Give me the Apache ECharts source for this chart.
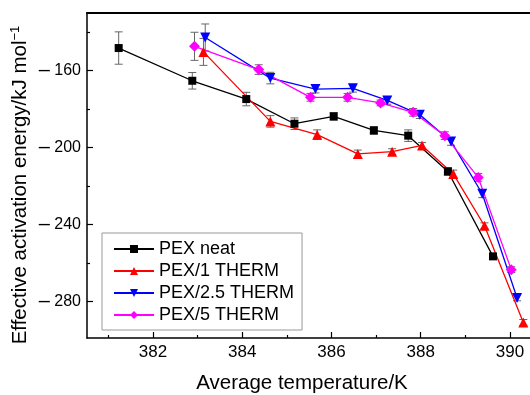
<!DOCTYPE html>
<html>
<head>
<meta charset="utf-8">
<script src="https://cdn.jsdelivr.net/npm/echarts@6/dist/echarts.min.js"></script>
<style>
  html, body { margin: 0; padding: 0; background: #fff; }
  #chart { width: 530px; height: 395px; }
</style>
</head>
<body>
<div id="chart"></div>
<script>
// data
var seriesNames = ['PEX neat', 'PEX/1 THERM', 'PEX/2.5 THERM', 'PEX/5 THERM'];

var neatT = [381.23, 382.88, 384.09, 385.17, 386.05, 386.95, 387.72, 388.61, 389.62];
var neatE = [-148.4, -165.4, -174.9, -187.7, -183.9, -191.2, -193.9, -212.5, -256.6];
var neatErr = [8.4, 4.3, 3.5, 3.0, 2.0, 2.0, 3.0, 2.0, 1.5];

var therm1T = [383.13, 384.63, 385.68, 386.59, 387.36, 388.03, 388.73, 389.43, 390.30];
var therm1E = [-150.4, -186.5, -193.4, -203.4, -202.2, -199.0, -213.8, -240.7, -290.9];
var therm1Err = [7.0, 3.0, 2.5, 2.0, 1.5, 1.5, 2.0, 1.5, 1.5];

var therm25T = [383.17, 384.63, 385.64, 386.48, 387.25, 387.98, 388.68, 389.38, 390.16];
var therm25E = [-142.9, -164.0, -169.7, -169.3, -175.6, -183.0, -196.9, -224.1, -278.2];
var therm25Err = [7.0, 3.0, 2.0, 2.0, 2.0, 2.0, 2.0, 2.0, 1.5];

var therm5T = [382.93, 384.37, 385.53, 386.36, 387.10, 387.83, 388.54, 389.29, 390.03];
var therm5E = [-147.5, -159.6, -174.0, -174.0, -176.9, -181.8, -193.9, -215.6, -263.5];
var therm5Err = [7.3, 2.5, 2.0, 2.0, 1.5, 2.0, 2.0, 2.0, 1.5];

var xMajor = [382, 384, 386, 388, 390];
var xMinor = [381, 383, 385, 387, 389];
var yMajor = [-160, -200, -240, -280];
var yMinor = [-140, -180, -220, -260];

var FONT = 'Liberation Sans, Arial, sans-serif';

function pairs(xs, ys) {
  return xs.map(function (x, i) { return [x, ys[i]]; });
}
function triples(xs, ys, es) {
  return xs.map(function (x, i) { return [x, ys[i], es[i]]; });
}

function errorBars(data) {
  return {
    type: 'custom',
    z: 1,
    silent: true,
    data: data,
    renderItem: function (params, api) {
      var x = api.value(0), y = api.value(1), e = api.value(2);
      var hi = api.coord([x, y + e]);
      var lo = api.coord([x, y - e]);
      var w = 4;
      var st = { stroke: '#666', lineWidth: 1 };
      return {
        type: 'group',
        children: [
          { type: 'line', shape: { x1: hi[0], y1: hi[1], x2: lo[0], y2: lo[1] }, style: st },
          { type: 'line', shape: { x1: hi[0] - w, y1: hi[1], x2: hi[0] + w, y2: hi[1] }, style: st },
          { type: 'line', shape: { x1: lo[0] - w, y1: lo[1], x2: lo[0] + w, y2: lo[1] }, style: st }
        ]
      };
    }
  };
}

function lineSeries(name, data, color, symbol, size, rotate) {
  return {
    name: name,
    type: 'line',
    z: 3,
    data: data,
    symbol: symbol,
    symbolSize: size,
    symbolRotate: rotate || 0,
    lineStyle: { color: color, width: 1.3 },
    itemStyle: { color: color },
    animation: false
  };
}

var xRange = { min: 380.52, max: 390.45 };
var yRange = { min: -299, max: -130.2 };

var chart = echarts.init(document.getElementById('chart'));
chart.setOption({
  animation: false,
  grid: { left: 87, top: 13, right: 0, bottom: 57, containLabel: false },
  legend: {
    orient: 'vertical',
    left: 102,
    top: 233,
    width: 200,
    padding: [7, 8, 6, 11],
    itemWidth: 40,
    itemHeight: 10,
    itemGap: 4,
    borderColor: '#999',
    borderWidth: 1,
    backgroundColor: '#fff',
    data: seriesNames,
    textStyle: { fontFamily: FONT, fontSize: 18, color: '#000', lineHeight: 18 }
  },
  xAxis: [
    {
      type: 'value', min: xRange.min, max: xRange.max, position: 'bottom',
      axisLine: { lineStyle: { color: '#000', width: 1.5 } },
      axisTick: { inside: true, length: 6, customValues: xMajor, lineStyle: { color: '#000', width: 1.2 } },
      axisLabel: { customValues: xMajor, margin: 6, fontFamily: FONT, fontSize: 17, color: '#000' },
      splitLine: { show: false }
    },
    {
      type: 'value', min: xRange.min, max: xRange.max, position: 'bottom',
      axisLine: { show: false },
      axisTick: { inside: true, length: 3, customValues: xMinor, lineStyle: { color: '#000', width: 1.2 } },
      axisLabel: { show: false },
      splitLine: { show: false }
    },
    {
      type: 'value', min: xRange.min, max: xRange.max, position: 'top',
      axisLine: { lineStyle: { color: '#000', width: 2.2 } },
      axisTick: { show: false },
      axisLabel: { show: false },
      splitLine: { show: false }
    }
  ],
  yAxis: [
    {
      type: 'value', min: yRange.min, max: yRange.max, position: 'left',
      axisLine: { show: true, lineStyle: { color: '#000', width: 1.5 } },
      axisTick: { show: true, inside: true, length: 6, customValues: yMajor, lineStyle: { color: '#000', width: 1.2 } },
      axisLabel: {
        customValues: yMajor, margin: 6, fontFamily: FONT, fontSize: 16, color: '#000',
        formatter: function (v) { return '{d|\u2013} ' + Math.abs(v); },
        rich: { d: { fontFamily: FONT, fontSize: 20, color: '#000' } }
      },
      splitLine: { show: false }
    },
    {
      type: 'value', min: yRange.min, max: yRange.max, position: 'left',
      axisLine: { show: false },
      axisTick: { show: true, inside: true, length: 3, customValues: yMinor, lineStyle: { color: '#000', width: 1.2 } },
      axisLabel: { show: false },
      splitLine: { show: false }
    }
  ],
  graphic: [
    {
      type: 'text', x: 302, y: 383,
      style: {
        text: 'Average temperature/K', fontFamily: FONT, fontSize: 20.5, fill: '#000',
        align: 'center', verticalAlign: 'middle'
      }
    },
    {
      type: 'text', x: 20, y: 185, rotation: Math.PI / 2,
      style: {
        text: 'Effective activation energy/kJ mol{sup|\u22121}',
        fontFamily: FONT, fontSize: 20.5, fill: '#000',
        align: 'center', verticalAlign: 'middle',
        rich: { sup: { fontFamily: FONT, fontSize: 13, fill: '#000', verticalAlign: 'top', padding: [0, 0, 10, 0] } }
      }
    }
  ],
  series: [
    errorBars(triples(neatT, neatE, neatErr)),
    errorBars(triples(therm1T, therm1E, therm1Err)),
    errorBars(triples(therm25T, therm25E, therm25Err)),
    errorBars(triples(therm5T, therm5E, therm5Err)),
    lineSeries(seriesNames[0], pairs(neatT, neatE), '#000000', 'rect', 8),
    lineSeries(seriesNames[1], pairs(therm1T, therm1E), '#ff0000', 'triangle', 10),
    lineSeries(seriesNames[2], pairs(therm25T, therm25E), '#0000ff', 'triangle', 10, 180),
    lineSeries(seriesNames[3], pairs(therm5T, therm5E), '#ff00ff', 'diamond', [11, 11])
  ]
});
</script>
</body>
</html>
